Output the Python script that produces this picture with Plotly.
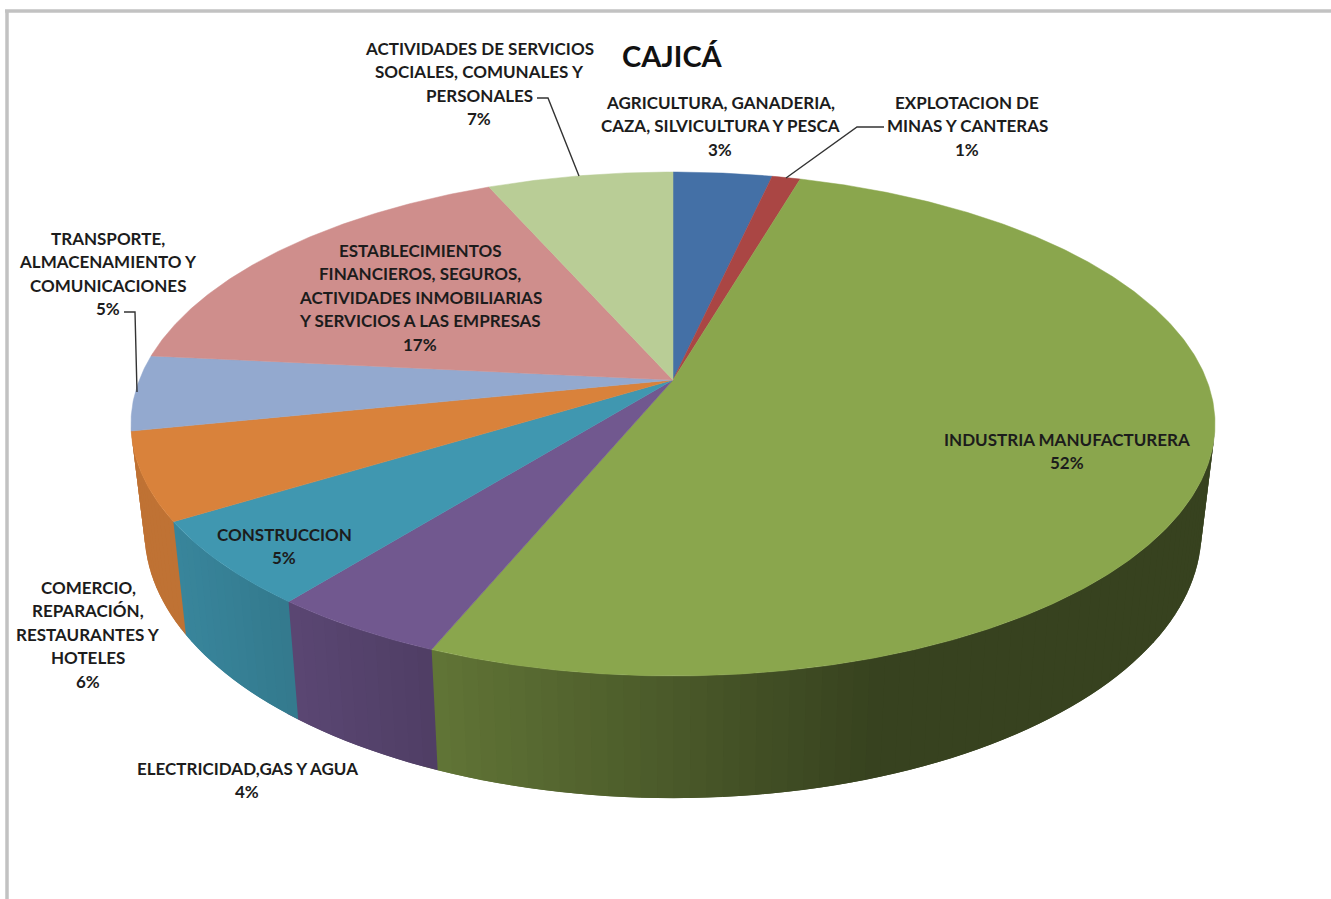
import numpy as np
import plotly.graph_objects as go

# ---- data ----
categories = ["AGRICULTURA, GANADERIA, CAZA, SILVICULTURA Y PESCA", "EXPLOTACION DE MINAS Y CANTERAS",
              "INDUSTRIA MANUFACTURERA", "ELECTRICIDAD,GAS Y AGUA", "CONSTRUCCION",
              "COMERCIO, REPARACIÓN, RESTAURANTES Y HOTELES", "TRANSPORTE, ALMACENAMIENTO Y COMUNICACIONES",
              "ESTABLECIMIENTOS FINANCIEROS, SEGUROS, ACTIVIDADES INMOBILIARIAS Y SERVICIOS A LAS EMPRESAS",
              "ACTIVIDADES DE SERVICIOS SOCIALES, COMUNALES Y PERSONALES"]
values = [3.49, 1.0, 51.7, 4.49, 5.49, 5.6, 4.83, 16.85, 6.55]
colors = ["#4470a6", "#aa4644", "#8aa64d", "#71588f", "#4097b0", "#d9823b", "#93a9cf", "#cf8e8c", "#b9cd96"]
label_lines = [
    ["AGRICULTURA, GANADERIA,", "CAZA, SILVICULTURA Y PESCA"],
    ["EXPLOTACION DE", "MINAS Y CANTERAS"],
    ["INDUSTRIA MANUFACTURERA"],
    ["ELECTRICIDAD,GAS Y AGUA"],
    ["CONSTRUCCION"],
    ["COMERCIO,", "REPARACIÓN,", "RESTAURANTES Y", "HOTELES"],
    ["TRANSPORTE,", "ALMACENAMIENTO Y", "COMUNICACIONES"],
    ["ESTABLECIMIENTOS", "FINANCIEROS, SEGUROS,", "ACTIVIDADES INMOBILIARIAS", "Y SERVICIOS A LAS EMPRESAS"],
    ["ACTIVIDADES DE SERVICIOS", "SOCIALES, COMUNALES Y", "PERSONALES"],
]
label_pos = [(720, 102), (967, 102), (1067, 439), (247, 768), (284, 534),
             (88, 587), (108, 238), (420, 250), (479, 48)]
title_text = "CAJICÁ"

# ---- projection of the 3D pie ----
W, H = 1331, 899
CX, CY = 673, 380        # apex of the slices
A, B, K = 244.3, 533.7, 0.1746   # perspective of the top face
X_SHRINK, Y_STRETCH, Y_DROP = 0.975, 1.058, 105   # bottom rim relative to the top rim


def top(theta):
    u, v = np.sin(theta), np.cos(theta)
    d = 1 + K * v
    return B * u / d, A * v / d


def rim_top(theta):
    X, Y = top(theta)
    return CX + X, CY - Y


def rim_bottom(theta):
    X, Y = top(theta)
    return CX + X_SHRINK * X, CY - (Y_STRETCH * Y - Y_DROP)


def shade(hex_color, x):
    f = np.clip(0.88 - (x - 180) * 0.000686, 0.40, 0.88)
    rgb = [int(hex_color[i:i + 2], 16) for i in (1, 3, 5)]
    return "rgb(%d,%d,%d)" % tuple(round(c * f) for c in rgb)


fractions = np.cumsum([0] + values) / sum(values)
angles = fractions * 2 * np.pi
fig = go.Figure()

# side wall, one thin strip at a time so the shading can vary;
# each strip runs on under the next one, so no seams show between them
for i, col in enumerate(colors):
    a0, a1 = angles[i], angles[i + 1]
    n = max(2, int(np.degrees(a1 - a0) / 1.5) + 1)
    edges = np.linspace(a0, a1, n + 1)
    for s0, s1 in zip(edges[:-1], edges[1:]):
        if np.cos((s0 + s1) / 2) > -0.2:
            continue
        tt = np.array([s0, s1 + (s1 - s0)])
        xt, yt = rim_top(tt)
        xb, yb = rim_bottom(tt)
        c = shade(col, xt[0])
        fig.add_trace(go.Scatter(
            x=[xt[0], xt[1], xb[1], xb[0], xt[0]], y=[yt[0], yt[1], yb[1], yb[0], yt[0]],
            mode="lines", fill="toself", fillcolor=c, line=dict(color=c, width=0),
            hoverinfo="skip", showlegend=False))

# top faces
for i, col in enumerate(colors):
    tt = np.linspace(angles[i], angles[i + 1], max(8, int(values[i] * 8)))
    xt, yt = rim_top(tt)
    fig.add_trace(go.Scatter(
        x=np.r_[CX, xt, CX], y=np.r_[CY, yt, CY], mode="lines", fill="toself", fillcolor=col,
        line=dict(color=col, width=0.5), name=categories[i], hoverinfo="name", showlegend=False))

# leader lines
for lx, ly in [([537, 548, 579], [98, 98, 176]),
               ([884, 857, 786], [127, 127, 178]),
               ([124, 135, 137], [312, 312, 392])]:
    fig.add_trace(go.Scatter(x=lx, y=ly, mode="lines", line=dict(color="#333333", width=1.4),
                             hoverinfo="skip", showlegend=False))

ann = []
FONT = "Lato"
LINE = 23.5
for lines, val, (cx, y0) in zip(label_lines, values, label_pos):
    for j, t in enumerate(lines + [f"{round(val)}%"]):
        ann.append(dict(x=cx, y=y0 + j * LINE, text=f"<b>{t}</b>", showarrow=False, xanchor="center",
                        yanchor="middle", font=dict(family=FONT, size=17, color="#1c1c1c")))
ann.append(dict(x=672, y=55, text=f"<b>{title_text}</b>", showarrow=False, xanchor="center", yanchor="middle",
                font=dict(family=FONT, size=29, color="#111111")))

fig.update_layout(
    width=W, height=H, margin=dict(l=0, r=0, t=0, b=0), paper_bgcolor="white", plot_bgcolor="white",
    xaxis=dict(range=[0, W], visible=False, fixedrange=True),
    yaxis=dict(range=[H, 0], visible=False, fixedrange=True),
    annotations=ann,
    shapes=[
        dict(type="line", x0=5, x1=W, y0=11, y1=11, line=dict(color="#c2c2c2", width=3.5), layer="below"),
        dict(type="line", x0=7, x1=7, y0=10, y1=H, line=dict(color="#c2c2c2", width=3.5), layer="below"),
    ],
)
fig.write_html("out.html", post_script="document.body.style.margin='0';document.body.style.overflow='hidden';",
               config={"displayModeBar": False})
